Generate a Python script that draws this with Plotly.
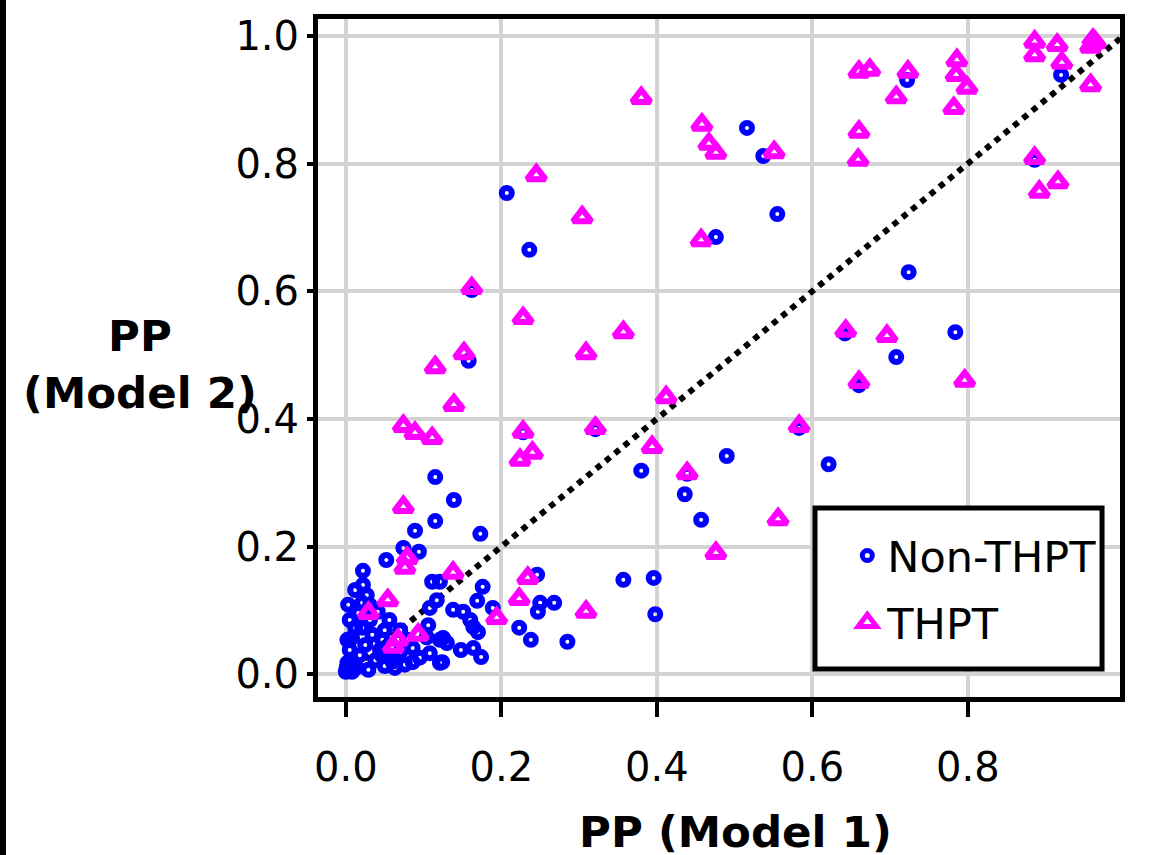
import plotly.graph_objects as go

# PP values
non_thpt_x = [0.516, 0.537, 0.920, 0.722, 0.555, 0.476, 0.207, 0.236, 0.724, 0.784,
              0.708, 0.158, 0.642, 0.660, 0.583, 0.162, 0.886, 0.228, 0.321, 0.439,
              0.380, 0.490, 0.621, 0.436, 0.457, 0.115, 0.139, 0.115, 0.089, 0.173,
              0.074, 0.094, 0.052, 0.357, 0.396, 0.398, 0.246, 0.268, 0.250, 0.247,
              0.223, 0.238, 0.285, 0.176, 0.169, 0.189, 0.138, 0.151, 0.160, 0.164,
              0.170, 0.148, 0.164, 0.174, 0.124, 0.125, 0.111, 0.121, 0.117, 0.108,
              0.106, 0.104, 0.121, 0.130, 0.108, 0.121, 0.056, 0.050, 0.047, 0.022,
              0.022, 0.027, 0.021, 0.016, 0.012, 0.008, 0.005, 0.002, 0.000, 0.031,
              0.034, 0.025, 0.018, 0.038, 0.050, 0.063, 0.076, 0.086, 0.014, 0.029,
              0.008, 0.021, 0.031, 0.044, 0.059, 0.070, 0.079, 0.086, 0.095, 0.070,
              0.041, 0.012, 0.003, 0.002, 0.005, 0.001, 0.060, 0.046]
non_thpt_y = [0.856, 0.812, 0.939, 0.931, 0.721, 0.685, 0.754, 0.665, 0.630, 0.536,
              0.497, 0.491, 0.534, 0.453, 0.386, 0.602, 0.806, 0.379, 0.384, 0.314,
              0.319, 0.342, 0.329, 0.282, 0.242, 0.309, 0.273, 0.240, 0.225, 0.220,
              0.198, 0.192, 0.179, 0.148, 0.151, 0.094, 0.156, 0.112, 0.112, 0.098,
              0.073, 0.054, 0.051, 0.137, 0.115, 0.104, 0.101, 0.098, 0.085, 0.074,
              0.066, 0.038, 0.041, 0.027, 0.019, 0.057, 0.145, 0.145, 0.116, 0.104,
              0.077, 0.058, 0.054, 0.049, 0.033, 0.018, 0.085, 0.069, 0.054, 0.162,
              0.140, 0.124, 0.112, 0.096, 0.073, 0.057, 0.038, 0.018, 0.004, 0.085,
              0.062, 0.046, 0.030, 0.022, 0.013, 0.010, 0.015, 0.019, 0.011, 0.007,
              0.004, 0.073, 0.108, 0.038, 0.029, 0.035, 0.054, 0.041, 0.026, 0.069,
              0.098, 0.132, 0.109, 0.054, 0.085, 0.010, 0.020, 0.030]

thpt_x = [0.380, 0.458, 0.467, 0.476, 0.551, 0.245, 0.304, 0.457, 0.162, 0.228,
          0.357, 0.309, 0.152, 0.115, 0.412, 0.139, 0.074, 0.089, 0.111, 0.228,
          0.321, 0.394, 0.240, 0.224, 0.439, 0.074, 0.079, 0.076, 0.138, 0.234,
          0.223, 0.054, 0.029, 0.309, 0.194, 0.093, 0.067, 0.061, 0.476, 0.556,
          0.583, 0.643, 0.696, 0.660, 0.796, 0.660, 0.659, 0.660, 0.674, 0.708,
          0.723, 0.786, 0.785, 0.799, 0.782, 0.886, 0.886, 0.915, 0.921, 0.961,
          0.958, 0.964, 0.958, 0.886, 0.892, 0.916]
thpt_y = [0.903, 0.861, 0.831, 0.817, 0.818, 0.782, 0.716, 0.680, 0.605, 0.558,
          0.536, 0.503, 0.503, 0.481, 0.434, 0.422, 0.389, 0.378, 0.370, 0.380,
          0.386, 0.356, 0.347, 0.336, 0.315, 0.262, 0.182, 0.167, 0.159, 0.151,
          0.118, 0.116, 0.096, 0.098, 0.088, 0.062, 0.054, 0.043, 0.190, 0.243,
          0.389, 0.538, 0.530, 0.458, 0.460, 0.850, 0.806, 0.944, 0.947, 0.904,
          0.944, 0.962, 0.939, 0.919, 0.887, 0.991, 0.970, 0.986, 0.958, 0.994,
          0.983, 0.990, 0.923, 0.809, 0.756, 0.771]

ref_line = [0, 1]
tick_vals = [0.0, 0.2, 0.4, 0.6, 0.8, 1.0]
tick_text = ['0.0', '0.2', '0.4', '0.6', '0.8', '1.0']

FONT = 'DejaVu Sans'

fig = go.Figure()

fig.add_trace(go.Scatter(
    x=ref_line, y=ref_line, mode='lines',
    line=dict(color='black', width=6, dash='dot'),
    showlegend=False, hoverinfo='skip'))

fig.add_trace(go.Scatter(
    name='Non-THPT', x=non_thpt_x, y=non_thpt_y, mode='markers',
    legendgroup='a',
    marker=dict(symbol='circle-open', size=10, color='#0000ff',
                line=dict(width=6, color='#0000ff'))))

fig.add_trace(go.Scatter(
    name='THPT', x=thpt_x, y=thpt_y, mode='markers',
    legendgroup='b',
    marker=dict(symbol='triangle-up-open', size=16, color='#ff00ff',
                line=dict(width=6, color='#ff00ff'))))

axis_common = dict(
    showline=True, linecolor='black', linewidth=5, mirror=True,
    showgrid=True, gridcolor='#d3d3d3', gridwidth=4,
    zeroline=False, ticks='outside', tickcolor='black', tickwidth=4,
    tickfont=dict(family=FONT, size=40, color='black'),
    tickvals=tick_vals, ticktext=tick_text)

fig.update_xaxes(range=[-0.0358, 0.9958], ticklen=15, ticklabelstandoff=16, **axis_common)
fig.update_yaxes(range=[-0.0356, 1.0266], ticklen=6, **axis_common)

fig.add_annotation(text='<b>PP (Model 1)</b>', xref='paper', yref='paper',
                   x=0.521, y=-0.199, xanchor='center', yanchor='middle',
                   showarrow=False, font=dict(family=FONT, size=43.5, color='black'))
fig.add_annotation(text='<b>PP</b><br><b>(Model 2)</b>', xref='paper', yref='paper',
                   x=-0.222, y=0.49, xanchor='center', yanchor='middle',
                   showarrow=False, font=dict(family=FONT, size=43.5, color='black'))

# frame line at far left of the cropped figure
fig.add_shape(type='line', xref='paper', yref='paper',
              x0=-0.3928, x1=-0.3928, y0=-0.24, y1=1.04,
              line=dict(color='black', width=6))

# legend box
fig.add_shape(type='rect', xref='paper', yref='paper',
              x0=0.6197, x1=0.9776, y0=0.0413, y1=0.2788,
              line=dict(color='black', width=5), fillcolor='white', layer='above')

fig.update_layout(
    width=1157, height=855,
    margin=dict(l=318, r=37, t=19, b=158),
    paper_bgcolor='white', plot_bgcolor='white',
    font=dict(family=FONT, color='black'),
    legend=dict(x=0.66, y=0.2595, xanchor='left', yanchor='top',
                borderwidth=0, bgcolor='rgba(0,0,0,0)', tracegroupgap=8,
                font=dict(family=FONT, size=43, color='black')))

# drop the default 8px page margin so the figure sits at the window's corner
fig.write_html('out.html', config={'displayModeBar': False},
               post_script="document.body.style.margin='0';")
